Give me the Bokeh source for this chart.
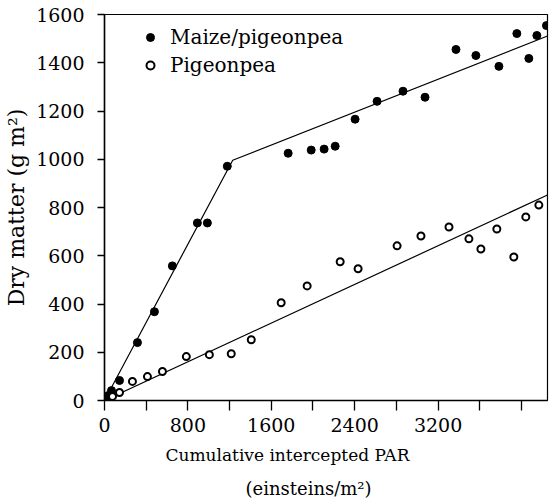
from bokeh.plotting import figure
from bokeh.models import FixedTicker, Legend, LegendItem, Range1d, Title
from bokeh.embed import file_html
from bokeh.resources import INLINE

# Maize/pigeonpea intercrop (filled dots)
maize_par = [10, 38, 67, 144, 316, 479, 651, 891, 987, 1178, 1762, 1983, 2107, 2213,
             2404, 2615, 2864, 3075, 3372, 3563, 3784, 3956, 4071, 4148, 4240]
maize_dm = [8, 21, 41, 83, 240, 368, 558, 736, 736, 971, 1025, 1038, 1042, 1054,
            1166, 1240, 1282, 1257, 1455, 1430, 1385, 1521, 1418, 1513, 1554]

# Sole pigeonpea (open circles)
pp_par = [77, 144, 268, 412, 556, 785, 1006, 1216, 1408, 1695, 1944, 2261, 2433,
          2807, 3036, 3305, 3496, 3611, 3764, 3927, 4042, 4167]
pp_dm = [17, 33, 79, 99, 120, 182, 190, 194, 252, 405, 475, 575, 546,
         641, 682, 719, 670, 628, 711, 595, 761, 810]

# Fitted lines
maize_fit_x = [0, 1230, 4250]
maize_fit_y = [0, 996, 1511]
pp_fit_x = [0, 4250]
pp_fit_y = [0, 852]

x_major = [0, 800, 1600, 2400, 3200]
x_minor = [400, 1200, 2000, 2800, 3600, 4000]
y_major = [0, 200, 400, 600, 800, 1000, 1200, 1400, 1600]

FONT = "DejaVu Serif"

p = figure(width=550, height=502, output_backend="svg", toolbar_location=None,
           x_range=Range1d(0, 4250), y_range=Range1d(0, 1600),
           min_border_left=104, min_border_right=3, min_border_top=14, min_border_bottom=101)

p.xgrid.visible = False
p.ygrid.visible = False
p.outline_line_color = "black"
p.outline_line_width = 1.2

p.line(maize_fit_x, maize_fit_y, line_color="black", line_width=1.2)
p.line(pp_fit_x, pp_fit_y, line_color="black", line_width=1.2)

r1 = p.scatter(maize_par, maize_dm, size=8, marker="circle", fill_color="black", line_color="black")
r2 = p.scatter(pp_par, pp_dm, size=7, marker="circle", fill_color="white", line_color="black", line_width=2)

p.xaxis.ticker = FixedTicker(ticks=x_major, minor_ticks=x_minor)
p.yaxis.ticker = FixedTicker(ticks=y_major)

for ax in (p.xaxis[0], p.yaxis[0]):
    ax.axis_line_color = "black"
    ax.axis_line_width = 1.5
    ax.major_tick_line_color = "black"
    ax.minor_tick_line_color = "black"
    ax.major_tick_line_width = 1.3
    ax.minor_tick_line_width = 1.3
    ax.major_tick_in = 0
    ax.minor_tick_in = 0
    ax.major_label_text_font = FONT
    ax.major_label_text_font_size = "19px"
    ax.major_label_text_color = "black"
    ax.axis_label_text_font = FONT
    ax.axis_label_text_font_style = "normal"
    ax.axis_label_text_color = "black"

p.xaxis.major_tick_out = 10
p.xaxis.minor_tick_out = 10
p.xaxis.major_label_standoff = 7

p.yaxis.major_tick_out = 7
p.yaxis.minor_tick_out = 0
p.yaxis.major_label_standoff = 13
p.yaxis.axis_label = "Dry matter (g m²)"
p.yaxis.axis_label_text_font_size = "22px"
p.yaxis.axis_label_standoff = 4

t1 = Title(text="Cumulative intercepted PAR", align="left", offset=61,
           text_font=FONT, text_font_size="17px", text_font_style="normal",
           text_color="black", standoff=16)
t2 = Title(text="(einsteins/m²)", align="left", offset=141,
           text_font=FONT, text_font_size="18px", text_font_style="normal",
           text_color="black", standoff=7)
p.add_layout(t1, "below")
p.add_layout(t2, "below")

legend = Legend(items=[LegendItem(label="Maize/pigeonpea", renderers=[r1]),
                       LegendItem(label="Pigeonpea", renderers=[r2])],
                location=(36, 323), padding=0, margin=0, spacing=4,
                glyph_width=20, glyph_height=20, label_height=20, label_standoff=10,
                border_line_color=None, background_fill_alpha=0,
                label_text_font=FONT, label_text_font_size="20px", label_text_color="black")
p.add_layout(legend)

open("out.html", "w").write(file_html(p, INLINE))
